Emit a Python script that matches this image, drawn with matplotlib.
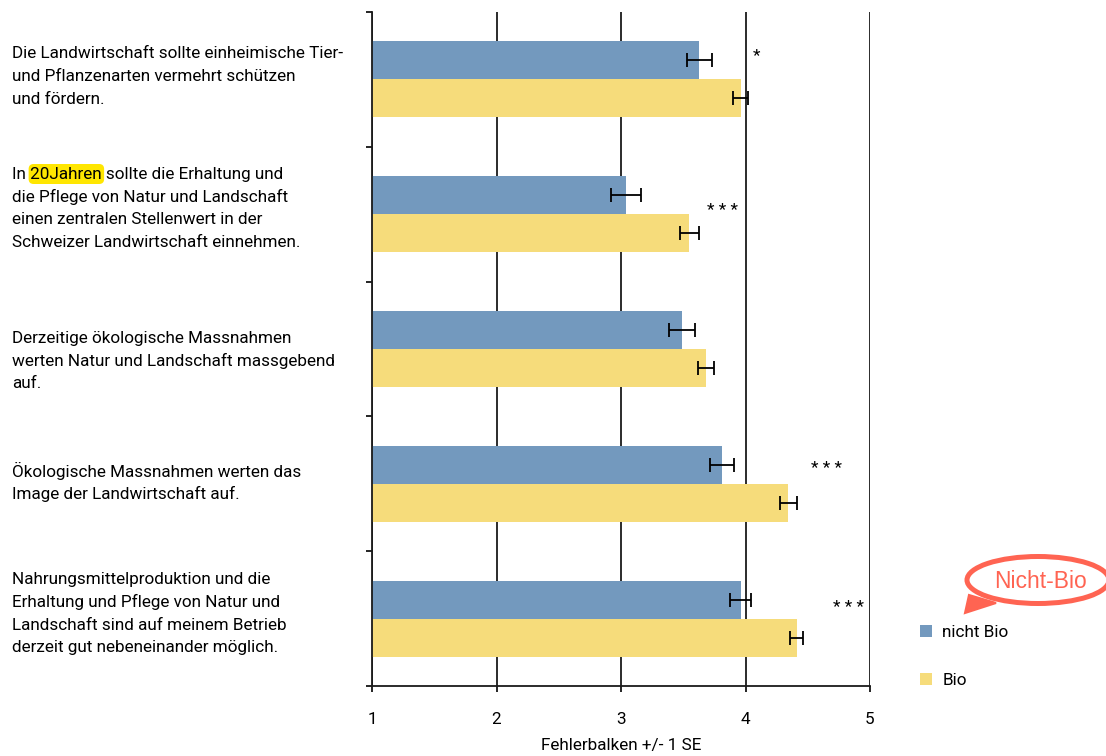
import matplotlib
matplotlib.use("Agg")
import matplotlib.pyplot as plt
from matplotlib import font_manager, transforms
from matplotlib.patches import Ellipse, Polygon, FancyBboxPatch
import numpy as np

# statements (one per group), top to bottom
statements = [
    "Die Landwirtschaft sollte einheimische Tier-\nund Pflanzenarten vermehrt schützen\nund fördern.",
    "In 20Jahren sollte die Erhaltung und\ndie Pflege von Natur und Landschaft\neinen zentralen Stellenwert in der\nSchweizer Landwirtschaft einnehmen.",
    "Derzeitige ökologische Massnahmen\nwerten Natur und Landschaft massgebend\nauf.",
    "Ökologische Massnahmen werten das\nImage der Landwirtschaft auf.",
    "Nahrungsmittelproduktion und die\nErhaltung und Pflege von Natur und\nLandschaft sind auf meinem Betrieb\nderzeit gut nebeneinander möglich.",
]
highlight_word = "20Jahren"

nicht_bio = [3.63, 3.04, 3.49, 3.81, 3.96]
nicht_bio_se = [0.10, 0.118, 0.108, 0.098, 0.087]
bio = [3.96, 3.55, 3.68, 4.345, 4.41]
bio_se = [0.061, 0.075, 0.064, 0.066, 0.052]

signif = ["*", "* * *", "", "* * *", "* * *"]
signif_x = [4.06, 3.69, np.nan, 4.53, 4.70]
signif_dy = [-0.18, -0.025, 0.0, -0.115, -0.085]

# small vertical nudges (px) of the statement blocks
label_nudge = [3, 6, -12, 1, 5]

xticks = [1, 2, 3, 4, 5]

BLUE = "#7399be"
YELLOW = "#f6dc7b"
RED = "#ff6452"

names = {f.name for f in font_manager.fontManager.ttflist}
if "Liberation Sans Narrow" in names:
    FONT, FS = "Liberation Sans Narrow", 13.5
else:
    FONT, FS = "Roboto", 12.3
plt.rcParams["font.family"] = [FONT, "DejaVu Sans"]

W, H = 1106, 756
fig = plt.figure(figsize=(W / 100, H / 100), dpi=100)

# pixel overlay (drawn beneath the main axes) for highlight and bubble
ov = fig.add_axes([0, 0, 1, 1], zorder=0)
ov.set_xlim(0, W)
ov.set_ylim(0, H)
ov.axis("off")

ax = fig.add_axes([372 / W, 1 - 686 / H, 498 / W, 674 / H], zorder=1)
ax.patch.set_alpha(0)

y = np.arange(len(statements))
h = 0.282
err_kw = dict(ecolor="black", elinewidth=1.3, capsize=5.2, capthick=1.3)
b1 = ax.barh(y - h / 2, nicht_bio, height=h, color=BLUE, xerr=nicht_bio_se,
             error_kw=err_kw, label="nicht Bio", zorder=2)
b2 = ax.barh(y + h / 2, bio, height=h, color=YELLOW, xerr=bio_se,
             error_kw=err_kw, label="Bio", zorder=2)

ax.set_xlim(1, 5)
ax.set_ylim(len(statements) - 0.5, -0.5)
ax.set_xticks(xticks)
ax.set_yticks(np.arange(-0.5, len(statements), 1))
ax.set_yticklabels([])
ax.tick_params(axis="y", length=4, width=1.2, direction="out")
ax.tick_params(axis="x", length=4.5, width=1.2, direction="out", pad=14, labelsize=FS)
ax.xaxis.grid(True, color="#1a1a1a", lw=1.3)
ax.set_axisbelow(True)
for s in ["top", "right"]:
    ax.spines[s].set_visible(False)
for s in ["left", "bottom"]:
    ax.spines[s].set_linewidth(1.3)
    ax.spines[s].set_color("#1a1a1a")
ax.set_xlabel("Fehlerbalken +/- 1 SE", fontsize=FS, labelpad=8)

for i, s in enumerate(signif):
    if s:
        ax.text(signif_x[i], i + signif_dy[i], s, fontsize=FS, ha="left", va="center")

# statement labels, line by line
blend = transforms.blended_transform_factory(fig.transFigure, ax.transData)
line_h = 22.8
x_lab = 12
renderer = fig.canvas.get_renderer()


def text_w(s):
    t = fig.text(0, 0, s, fontsize=FS)
    w = t.get_window_extent(renderer).width
    t.remove()
    return w


for i, lab in enumerate(statements):
    lines = lab.split("\n")
    n = len(lines)
    for j, line in enumerate(lines):
        dy = -(j - (n - 1) / 2) * line_h + label_nudge[i]
        tr = transforms.offset_copy(blend, fig=fig, y=dy, units="dots")
        ax.text(x_lab / W, i, line, transform=tr, fontsize=FS, ha="left",
                va="center", clip_on=False)
        if highlight_word in line:
            pre = line.split(highlight_word)[0].rstrip()
            w_pre = text_w(pre)
            w_all = text_w(pre + " " + highlight_word)
            w_word = text_w(highlight_word)
            gap = w_all - w_pre - w_word
            x0 = x_lab + w_pre + gap
            x1 = x_lab + w_all
            yc = ax.transData.transform((0, i))[1] + dy
            ov.add_patch(FancyBboxPatch((x0 - 1.5, yc - 10), x1 - x0 + 4, 20,
                                        boxstyle="round,pad=0,rounding_size=5",
                                        fc="#ffe600", ec="none"))

fig.legend(handles=[b1, b2], labels=["nicht Bio", "Bio"], loc="upper left",
           bbox_to_anchor=(920 / W, 1 - 625 / H), frameon=False, fontsize=FS,
           handlelength=0.7, handleheight=0.7, handletextpad=0.6,
           labelspacing=1.95, borderpad=0, borderaxespad=0)

# "Nicht-Bio" speech bubble
ov.add_patch(Polygon([(965, H - 613), (969, H - 595), (996, H - 603)],
                     closed=True, fc=RED, ec=RED, lw=1.5))
ov.add_patch(Ellipse((1038, H - 580), 142, 47, fill=False, ec=RED, lw=3.6))
ov.text(1041, H - 582, "Nicht-Bio", color=RED, fontsize=16.5, ha="center",
        va="center", family=["Liberation Sans", "DejaVu Sans"])

fig.savefig("out.png", dpi=100)
